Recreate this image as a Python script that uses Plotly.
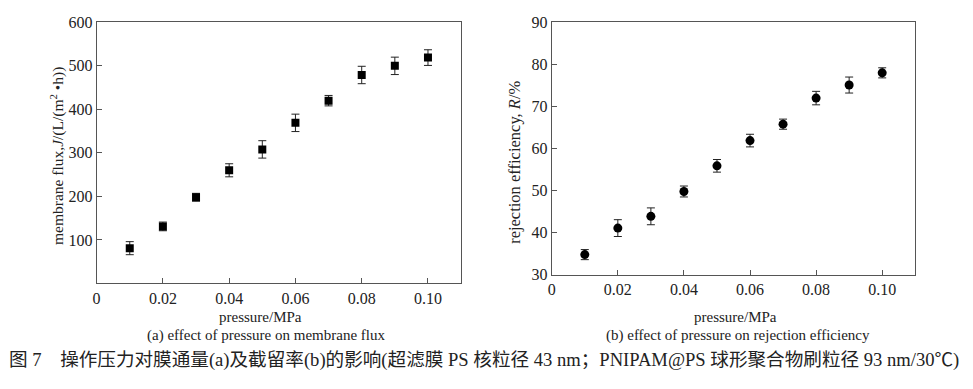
import plotly.graph_objects as go

pressure = [0.01, 0.02, 0.03, 0.04, 0.05, 0.06, 0.07, 0.08, 0.09, 0.10]
flux = [81, 131, 198, 260, 308, 369, 420, 479, 500, 519]
flux_err = [15, 10, 9, 15, 20, 20, 12, 20, 20, 18]
rejection = [34.8, 41.1, 43.9, 49.8, 55.9, 61.9, 65.8, 72.0, 75.1, 78.0]
rejection_err = [1.2, 2.0, 2.0, 1.3, 1.5, 1.5, 1.2, 1.6, 1.9, 1.2]

x_tickvals = [0, 0.02, 0.04, 0.06, 0.08, 0.10]
x_ticktext = ["0", "0.02", "0.04", "0.06", "0.08", "0.10"]
flux_ticks = [100, 200, 300, 400, 500, 600]
rej_ticks = [30, 40, 50, 60, 70, 80, 90]

SERIF = "Liberation Serif, Times New Roman, serif"
AX = "#555555"

fig = go.Figure()
fig.add_trace(go.Scatter(
    x=pressure, y=flux, mode="markers", xaxis="x", yaxis="y",
    marker=dict(symbol="square", size=8, color="black"),
    error_y=dict(type="data", array=flux_err, visible=True, color="#222", thickness=1, width=4),
    showlegend=False))
fig.add_trace(go.Scatter(
    x=pressure, y=rejection, mode="markers", xaxis="x2", yaxis="y2",
    marker=dict(symbol="circle", size=9, color="black"),
    error_y=dict(type="data", array=rejection_err, visible=True, color="#222", thickness=1, width=4),
    showlegend=False))

W, H = 973, 389
def fx(px): return px / W
def fy(py): return 1 - py / H

common_x = dict(range=[0, 0.11], tickvals=x_tickvals, ticktext=x_ticktext, ticks="inside",
                ticklen=5, tickcolor=AX, showline=True, linecolor=AX, linewidth=1, mirror=True,
                showgrid=False, zeroline=False, tickfont=dict(family=SERIF, size=16, color="#222"))
common_y = dict(ticks="inside", ticklen=5, tickcolor=AX, showline=True, linecolor=AX,
                linewidth=1, mirror=True, showgrid=False, zeroline=False,
                tickfont=dict(family=SERIF, size=16, color="#222"))

fig.update_layout(
    width=W, height=H, margin=dict(l=0, r=0, t=0, b=0),
    paper_bgcolor="white", plot_bgcolor="white",
    xaxis=dict(domain=[fx(93), fx(459)], anchor="y", **common_x),
    yaxis=dict(domain=[fy(288), fy(15)], anchor="x", range=[0, 600], tickvals=flux_ticks, **common_y),
    xaxis2=dict(domain=[fx(550), fx(915)], anchor="y2", **common_x),
    yaxis2=dict(domain=[fy(279), fy(15)], anchor="x2", range=[30, 90], tickvals=rej_ticks, **common_y),
)

def ann(text, x, y, size=14, angle=0, family=SERIF):
    fig.add_annotation(text=text, x=fx(x), y=fy(y), xref="paper", yref="paper",
                       showarrow=False, textangle=angle, xanchor="center", yanchor="middle",
                       font=dict(family=family, size=size, color="#222"))

ann("membrane flux,<i>J</i>/(L/(m<sup>2</sup> •h))", 53, 155, size=15.5, angle=-90)
ann("rejection efficiency, <i>R</i>/%", 513, 161, size=16.5, angle=-90)
ann("pressure/MPa", 258, 323, size=15)
ann("pressure/MPa", 735, 323, size=15)
ann("(a) effect of pressure on membrane flux", 263, 342, size=15)
ann("(b) effect of pressure on rejection efficiency", 737, 342, size=15)
ann("图 7　操作压力对膜通量(a)及截留率(b)的影响(超滤膜 PS 核粒径 43 nm；PNIPAM@PS 球形聚合物刷粒径 93 nm/30℃)",
    482, 368, size=18.6, family="Liberation Serif, Noto Sans CJK SC")

fig.write_html("out.html", config={"displayModeBar": False},
               post_script="document.body.style.margin='0';document.body.style.padding='0';")
